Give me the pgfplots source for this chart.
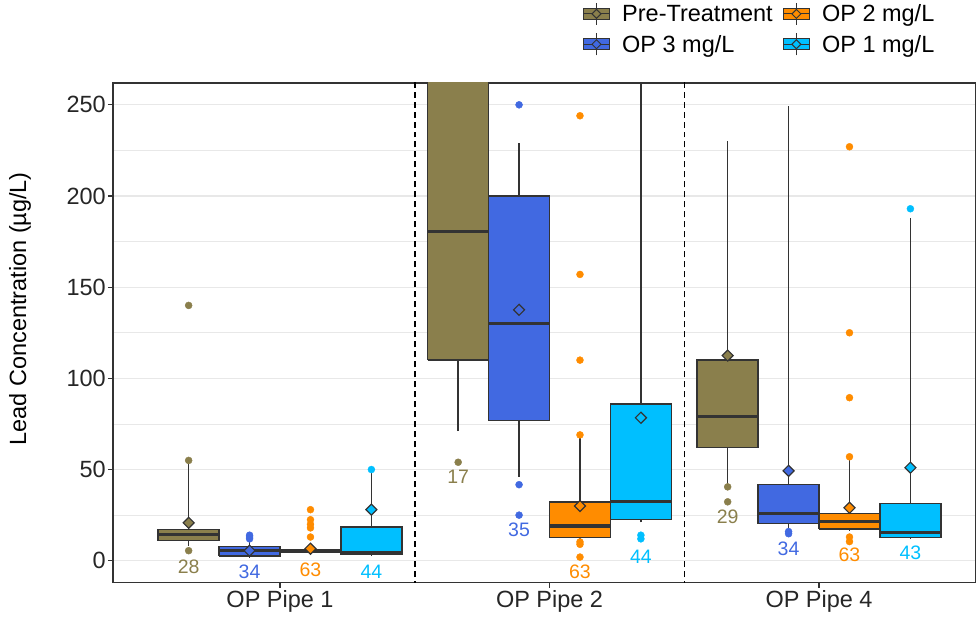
\documentclass[border=0pt]{standalone}
\usepackage{pgfplots}
\pgfplotsset{compat=1.18}
\usepackage{fontspec}
\setmainfont{Liberation Sans}
\definecolor{cPre}{RGB}{138,127,76}
\definecolor{cOP3}{RGB}{65,105,225}
\definecolor{cOP2}{RGB}{255,140,0}
\definecolor{cOP1}{RGB}{0,191,255}
\definecolor{cLine}{RGB}{51,51,51}
\definecolor{cGrid}{RGB}{232,232,232}
\newcommand{\legkey}[1]{\addlegendimage{legend image code/.code={
  \draw[cLine, line width=1.4pt] (13pt,-11pt)--(13pt,11pt);
  \draw[cLine, fill=#1, line width=1.4pt] (0pt,-5.5pt) rectangle (26pt,5.5pt);
  \draw[cLine, line width=1.2pt] (0pt,0pt)--(26pt,0pt);
  \draw[cLine, fill=#1, line width=1pt] (13pt,4.5pt)--(17.5pt,0pt)--(13pt,-4.5pt)--(8.5pt,0pt)--cycle;
}}}
% colour, left, centre, right, lower whisker, Q1, median, Q3, upper whisker
\newcommand{\bxp}[9]{%
 \addplot[forget plot, cLine, line width=1.5pt] coordinates {(#3,#5) (#3,#6)};
 \addplot[forget plot, cLine, line width=1.5pt] coordinates {(#3,#8) (#3,#9)};
 \addplot[forget plot, draw=cLine, fill=#1, line width=1.5pt, line join=miter] coordinates {(#2,#6) (#4,#6) (#4,#8) (#2,#8) (#2,#6)};
 \addplot[forget plot, cLine, line width=3.2pt] coordinates {(#2,#7) (#4,#7)};
}
\pgfplotsset{
  outl/.style={forget plot, only marks, mark=*, mark size=3.5pt, color=#1, mark options={draw=none, fill=#1}},
  meanpt/.style={forget plot, only marks, mark=square*, mark size=3.9pt, mark options={rotate=45, fill=#1, draw=cLine, line width=1.2pt}},
}
\begin{document}
\begin{tikzpicture}
\begin{axis}[
  name=ax,
  width=863pt, height=500pt, scale only axis,
  xmin=0.38, xmax=3.58, ymin=-12, ymax=262,
  xtick={1,2,3}, xticklabels={OP Pipe 1, OP Pipe 2, OP Pipe 4},
  ytick={0,50,...,250}, minor ytick={25,75,...,225},
  ymajorgrids, yminorgrids,
  major grid style={cGrid, line width=1.3pt},
  minor grid style={cGrid, line width=0.8pt},
  tick align=outside, major tick length=5pt, minor tick length=0pt,
  tick style={cLine, line width=1.3pt},
  xtick pos=bottom, ytick pos=left,
  axis line style={cLine, line width=1.3pt},
  ticklabel style={font=\fontsize{23.5}{28}\selectfont, text=black!85},
  yticklabel style={inner sep=2pt},
  xticklabel style={inner sep=3pt},
  /pgf/number format/assume math mode=true,
  ylabel={Lead Concentration (µg/L)},
  ylabel style={font=\fontsize{23.5}{28}\selectfont, at={(axis description cs:-0.1078,0.548)}, anchor=center},
  legend columns=2,
  legend style={draw=none, fill=none, inner sep=0pt, anchor=north east,
    at={(axis description cs:0.955,1.162)},
    font=\fontsize{23.5}{28}\selectfont,
    /tikz/every even column/.append style={column sep=8pt},
    /tikz/every odd column/.append style={column sep=10pt},
    row sep=7pt},
  legend cell align=left,
]
\legkey{cPre}\addlegendentry{Pre-Treatment}
\legkey{cOP2}\addlegendentry{OP 2 mg/L}
\legkey{cOP3}\addlegendentry{OP 3 mg/L}
\legkey{cOP1}\addlegendentry{OP 1 mg/L}

\addplot[forget plot, black, line width=1.5pt, dash pattern=on 6pt off 4pt] coordinates {(1.5,-20) (1.5,300)};
\addplot[forget plot, black, line width=1.5pt, dash pattern=on 6pt off 4pt] coordinates {(2.5,-20) (2.5,300)};

% Pre-Treatment
\bxp{cPre}{0.548}{0.661}{0.774}{8}{11}{14.3}{17}{55}
\bxp{cPre}{1.548}{1.661}{1.774}{71}{110}{180.4}{300}{350}
\bxp{cPre}{2.548}{2.661}{2.774}{40.5}{62}{79}{110}{230}
% OP 3
\bxp{cOP3}{0.774}{0.887}{1.000}{1.5}{2.7}{5.5}{7.7}{10}
\bxp{cOP3}{1.774}{1.887}{2.000}{46}{76.8}{130}{200}{229}
\bxp{cOP3}{2.774}{2.887}{3.000}{17.5}{20.3}{26}{41.7}{249.5}
% OP 2
\bxp{cOP2}{1.000}{1.113}{1.226}{4}{4.5}{5.3}{6}{7}
\bxp{cOP2}{2.000}{2.113}{2.226}{12}{12.6}{19}{32.3}{69}
\bxp{cOP2}{3.000}{3.113}{3.226}{16.5}{17.5}{21.4}{25.8}{57}
% OP 1
\bxp{cOP1}{1.226}{1.339}{1.452}{3}{3.3}{4.4}{18.6}{50}
\bxp{cOP1}{2.226}{2.339}{2.452}{21}{22.5}{32.3}{86}{300}
\bxp{cOP1}{3.226}{3.339}{3.452}{12}{12.6}{15.4}{31.3}{188}

% outliers
\addplot[outl=cPre] coordinates {(0.661,140) (0.661,55) (0.661,5.5) (1.661,54) (2.661,40.5) (2.661,32.3)};
\addplot[outl=cOP3] coordinates {(0.887,14) (0.887,13) (0.887,12) (1.887,250) (1.887,41.7) (1.887,25) (2.887,16) (2.887,14.8)};
\addplot[outl=cOP2] coordinates {(1.113,28) (1.113,22.5) (1.113,20) (1.113,18) (1.113,13) (2.113,244) (2.113,157) (2.113,110) (2.113,69) (2.113,10.3) (2.113,9) (2.113,2) (3.113,227) (3.113,125) (3.113,89.4) (3.113,57) (3.113,13) (3.113,10.5)};
\addplot[outl=cOP1] coordinates {(1.339,50) (2.339,14) (2.339,12) (3.339,193)};

% means
\addplot[meanpt=cPre] coordinates {(0.661,20.8) (2.661,112.5)};
\addplot[meanpt=cOP3] coordinates {(0.887,5.5) (1.887,137.6) (2.887,49.3)};
\addplot[meanpt=cOP2] coordinates {(1.113,6.6) (2.113,30) (3.113,29)};
\addplot[meanpt=cOP1] coordinates {(1.339,28) (2.339,78.4) (3.339,51)};

% counts
\begin{scope}[every node/.style={font=\fontsize{19.5}{23}\selectfont}]
\node[text=cPre] at (axis cs:0.661,-3.3) {28};
\node[text=cOP3] at (axis cs:0.887,-6) {34};
\node[text=cOP2] at (axis cs:1.113,-5) {63};
\node[text=cOP1] at (axis cs:1.339,-6) {44};
\node[text=cPre] at (axis cs:1.661,46) {17};
\node[text=cOP3] at (axis cs:1.887,17) {35};
\node[text=cOP2] at (axis cs:2.113,-6) {63};
\node[text=cOP1] at (axis cs:2.339,2.2) {44};
\node[text=cPre] at (axis cs:2.661,24) {29};
\node[text=cOP3] at (axis cs:2.887,6.6) {34};
\node[text=cOP2] at (axis cs:3.113,3.3) {63};
\node[text=cOP1] at (axis cs:3.339,4.4) {43};
\end{scope}
\end{axis}
\path (ax.south west) ++(-113pt,-34pt) rectangle ++(976pt,617pt);
\end{tikzpicture}
\end{document}
